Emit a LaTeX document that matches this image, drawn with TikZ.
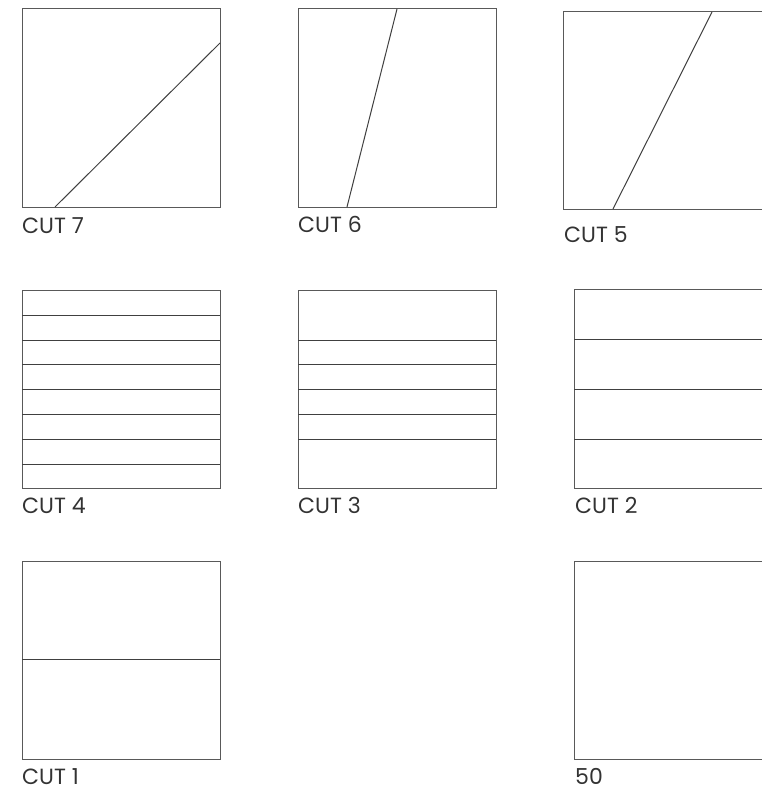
\documentclass[tikz,border=0pt]{standalone}
\usepackage{fontspec}
\setmainfont{Poppins}
\begin{document}
\begin{tikzpicture}[x=1pt,y=-1pt,
  frame/.style={draw=black!65,line width=1pt},
  cutline/.style={draw=black!75,line width=1pt},
  lbl/.style={anchor=base west,inner sep=0pt,font=\fontsize{22}{24}\selectfont,text=black!80}]
\useasboundingbox[fill=white] (0,0) rectangle (761,792);
% CUT 7
\draw[frame] (22,9) rectangle (220,207);
\draw[cutline] (55,207) -- (220,43);
\node[lbl] (l7) at (22,233) {CUT 7};
% CUT 6
\draw[frame] (298,9) rectangle (496,207);
\draw[cutline] (347,207) -- (397,9);
\node[lbl] (l6) at (298,232) {CUT 6};
% CUT 5
\draw[frame] (770,12) -- (563,12) -- (563,209) -- (770,209);
\draw[cutline] (613,209) -- (712,12);
\node[lbl] (l5) at (564,242) {CUT 5};
% CUT 4
\draw[frame] (22,290) rectangle (220,488);
\foreach \y in {315,340,364,389,414,439,464} \draw[cutline] (22,\y) -- (220,\y);
\node[lbl] (l4) at (22,513) {CUT 4};
% CUT 3
\draw[frame] (298,290) rectangle (496,488);
\foreach \y in {340,364,389,414,439} \draw[cutline] (298,\y) -- (496,\y);
\node[lbl] (l3) at (298,513) {CUT 3};
% CUT 2
\draw[frame] (770,289) -- (574,289) -- (574,488) -- (770,488);
\foreach \y in {339,389,439} \draw[cutline] (574,\y) -- (770,\y);
\node[lbl] (l2) at (575,513) {CUT 2};
% CUT 1
\draw[frame] (22,561) rectangle (220,759);
\draw[cutline] (22,659) -- (220,659);
\node[lbl] (l1) at (22,784) {CUT 1};
% 50
\draw[frame] (770,561) -- (574,561) -- (574,759) -- (770,759);
\node[lbl] (l50) at (575,784) {50};
\end{tikzpicture}
\end{document}
